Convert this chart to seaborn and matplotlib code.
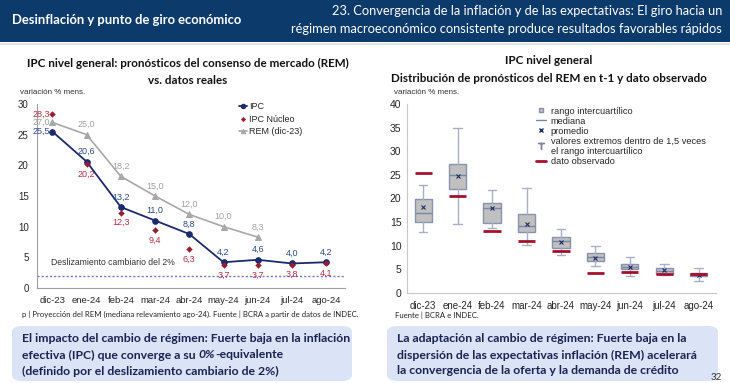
import numpy as np
import pandas as pd
import seaborn as sns
import matplotlib.pyplot as plt
from matplotlib.lines import Line2D
from matplotlib.patches import Rectangle, FancyBboxPatch

# data
months = ['dic-23', 'ene-24', 'feb-24', 'mar-24', 'abr-24', 'may-24', 'jun-24', 'jul-24', 'ago-24']
ipc = [25.5, 20.6, 13.2, 11.0, 8.8, 4.2, 4.6, 4.0, 4.2]
ipc_nucleo = [28.3, 20.2, 12.3, 9.4, 6.3, 3.7, 3.7, 3.8, 4.1]
rem_dic23 = [27.0, 25.0, 18.2, 15.0, 12.0, 10.0, 8.3]
deslizamiento = 2.0

# REM t-1 distribution
rem_wlo = [13.0, 14.5, 13.7, 10.1, 8.0, 5.7, 3.6, 3.8, 2.6]
rem_q1 = [15.0, 22.1, 14.9, 13.0, 9.5, 6.7, 5.0, 4.0, 3.5]
rem_med = [17.0, 25.0, 18.0, 14.2, 11.0, 7.6, 5.5, 4.6, 3.9]
rem_q3 = [20.0, 27.4, 19.0, 16.8, 11.9, 8.4, 6.1, 5.3, 4.3]
rem_whi = [22.9, 35.0, 21.7, 22.2, 13.5, 10.0, 7.6, 6.1, 5.3]
rem_mean = [18.1, 24.8, 17.9, 14.6, 10.7, 7.5, 5.5, 4.8, 3.8]
dato_observado = [25.3, 20.5, 13.1, 11.0, 8.8, 4.2, 4.5, 4.0, 4.0]

NAVY = '#1b2a6b'
RED = '#9b1b30'
GREY = '#a8a8a8'
HEAD = '#0b3a6b'
TXT = '#1a2350'
CAL = ['Lato', 'DejaVu Sans']

sns.set_style('white')
plt.rcParams['font.family'] = ['Liberation Sans', 'DejaVu Sans']

W, H = 730, 383
fig = plt.figure(figsize=(W / 100, H / 100), dpi=100)


def fx(px):
    return px / W


def fy(py):
    return 1 - py / H


def fmt(v):
    return f'{v:.1f}'.replace('.', ',')


# header band
fig.patches.append(Rectangle((0, fy(42)), 1, 42 / H, transform=fig.transFigure,
                             facecolor=HEAD, edgecolor='none', zorder=0))
fig.patches.append(Rectangle((0, fy(45)), 1, 2 / H, transform=fig.transFigure,
                             facecolor='#dfe3ea', edgecolor='none', zorder=0))
fig.text(fx(12), fy(20), 'Desinflación y punto de giro económico', color='white',
         fontsize=9.4, fontweight='bold', family=CAL, va='center')
fig.text(fx(722), fy(11), '23. Convergencia de la inflación y de las expectativas: El giro hacia un',
         color='white', fontsize=9.3, family=CAL, ha='right', va='center')
fig.text(fx(722), fy(29), 'régimen macroeconómico consistente produce resultados favorables rápidos',
         color='white', fontsize=9.3, family=CAL, ha='right', va='center')

# ---------------- left chart ----------------
ax1 = fig.add_axes([fx(37), fy(288), 308 / W, 184 / H])
x = np.arange(len(months))
df = pd.DataFrame({'x': x, 'ipc': ipc, 'nucleo': ipc_nucleo})
df_rem = pd.DataFrame({'x': x[:len(rem_dic23)], 'rem': rem_dic23})

ax1.axhline(deslizamiento, color='#6f74c8', lw=1, ls=(0, (1.5, 1.5)), zorder=1)
sns.lineplot(data=df_rem, x='x', y='rem', ax=ax1, color=GREY, lw=1.2, marker='^',
             markersize=4, markeredgecolor=GREY, label='REM (dic-23)', zorder=2)
sns.lineplot(data=df, x='x', y='ipc', ax=ax1, color=NAVY, lw=1.3, marker='o',
             markersize=4, markeredgecolor=NAVY, label='IPC', zorder=3)
sns.scatterplot(data=df, x='x', y='nucleo', ax=ax1, color=RED, marker='D', s=9,
                edgecolor=RED, label='IPC Núcleo', zorder=4)

LS = 6.5
for i, v in enumerate(ipc):
    if i == 0:
        ax1.annotate(fmt(v), (i, v), xytext=(-2, 0), textcoords='offset points',
                     ha='right', va='center', fontsize=LS, color='#2e4a8a')
    else:
        ax1.annotate(fmt(v), (i, v), xytext=(0, 4), textcoords='offset points',
                     ha='center', va='bottom', fontsize=LS, color='#2e4a8a')
for i, v in enumerate(ipc_nucleo):
    if i == 0:
        ax1.annotate(fmt(v), (i, v), xytext=(-2, 0), textcoords='offset points',
                     ha='right', va='center', fontsize=LS, color='#b03245')
    else:
        ax1.annotate(fmt(v), (i, v), xytext=(0, -4), textcoords='offset points',
                     ha='center', va='top', fontsize=LS, color='#b03245')
for i, v in enumerate(rem_dic23):
    if i == 0:
        ax1.annotate(fmt(v), (i, v), xytext=(-2, 0), textcoords='offset points',
                     ha='right', va='center', fontsize=LS, color='#a0a0a0')
    else:
        ax1.annotate(fmt(v), (i, v), xytext=(0, 4), textcoords='offset points',
                     ha='center', va='bottom', fontsize=LS, color='#a0a0a0')

ax1.text(-0.05, 4.2, 'Deslizamiento cambiario del 2%', fontsize=6.2, color='#333333', va='center')

ax1.set_xlim(-0.45, 8.55)
ax1.set_ylim(0, 30)
ax1.set_yticks(range(0, 31, 5))
ax1.set_xticks(x)
ax1.set_xticklabels(months)
ax1.set_xticks(np.arange(0.5, 8.5, 1), minor=True)
ax1.set_xlabel('')
ax1.set_ylabel('')
for s in ['top', 'right']:
    ax1.spines[s].set_visible(False)
for s in ['left', 'bottom']:
    ax1.spines[s].set_color('#a0a0a0')
ax1.tick_params(axis='y', length=3, color='#a0a0a0', labelsize=7, pad=3)
ax1.tick_params(axis='x', which='major', length=0, labelsize=6.8, pad=6)
ax1.tick_params(axis='x', which='minor', length=3, color='#a0a0a0', direction='in')

h, l = ax1.get_legend_handles_labels()
order = [l.index('IPC'), l.index('IPC Núcleo'), l.index('REM (dic-23)')]
ax1.legend([h[k] for k in order], [l[k] for k in order], loc='upper left',
           bbox_to_anchor=(0.63, 1.055), frameon=False, fontsize=6.5,
           handlelength=0.9, handletextpad=0.2, labelspacing=0.4, markerscale=0.8)

fig.text(fx(188), fy(63), 'IPC nivel general: pronósticos del consenso de mercado (REM)',
         ha='center', va='center', fontsize=8.4, fontweight='bold', family=CAL, color='#111111')
fig.text(fx(188), fy(80), 'vs. datos reales', ha='center', va='center', fontsize=8.4,
         fontweight='bold', family=CAL, color='#111111')
fig.text(fx(20), fy(93), 'variación % mens.', fontsize=5.8, va='center', color='#333333')
fig.text(fx(22), fy(314), 'p | Proyección del REM (mediana relevamiento ago-24). Fuente | BCRA a partir de datos de INDEC.',
         fontsize=5.6, family=CAL, va='center', color='#222222')

# ---------------- right chart ----------------
ax2 = fig.add_axes([fx(407), fy(293), 309 / W, 189 / H])
stats = []
for i in range(len(months)):
    stats.append({'whislo': rem_wlo[i], 'q1': rem_q1[i], 'med': rem_med[i],
                  'q3': rem_q3[i], 'whishi': rem_whi[i], 'mean': rem_mean[i],
                  'fliers': [], 'label': months[i]})
ax2.bxp(stats, positions=x, widths=0.5, patch_artist=True, showmeans=True,
        boxprops=dict(facecolor='#c0c0c0', edgecolor='#8a93ae', lw=1),
        medianprops=dict(color='#7a84a3', lw=1),
        whiskerprops=dict(color='#a9b0c6', lw=1),
        capprops=dict(color='#a9b0c6', lw=1),
        meanprops=dict(marker='x', markersize=2.5, markeredgecolor=NAVY, markeredgewidth=0.8),
        capwidths=0.25)
obs = pd.DataFrame({'x': x, 'obs': dato_observado})
ax2.hlines(obs['obs'], obs['x'] - 0.25, obs['x'] + 0.25, color='#a5102c', lw=2, zorder=5)

ax2.set_xlim(-0.47, 8.5)
ax2.set_ylim(0, 40)
ax2.set_yticks(range(0, 41, 5))
ax2.set_xticks(x)
ax2.set_xticklabels(months)
ax2.set_xticks(np.arange(0.5, 8.5, 1), minor=True)
for s in ['top', 'right']:
    ax2.spines[s].set_visible(False)
for s in ['left', 'bottom']:
    ax2.spines[s].set_color('#c8c8c8')
ax2.tick_params(axis='y', length=0, labelsize=7.5, pad=4)
ax2.tick_params(axis='x', which='major', length=0, labelsize=7, pad=6)
ax2.tick_params(axis='x', which='minor', length=3, color='#c0c0c0', direction='in')

leg_h = [Line2D([], [], ls='none', marker='s', markersize=3.5, markerfacecolor='#c0c0c0', markeredgecolor='#8a93ae'),
         Line2D([], [], color='#7a84a3', lw=1),
         Line2D([], [], ls='none', marker='x', markersize=3.5, markeredgecolor=NAVY),
         Line2D([], [], ls='none', marker='$\\top$', markersize=5, color='#7a84a3'),
         Line2D([], [], color='#a5102c', lw=2)]
leg_l = ['rango intercuartílico', 'mediana', 'promedio',
         'valores extremos dentro de 1,5 veces\nel rango intercuartílico', 'dato observado']
ax2.legend(leg_h, leg_l, loc='upper left', bbox_to_anchor=(0.39, 1.03), frameon=False,
           fontsize=6.7, handlelength=1.1, handletextpad=0.5, labelspacing=0.1)

fig.text(fx(549), fy(61), 'IPC nivel general', ha='center', va='center', fontsize=8.4,
         fontweight='bold', family=CAL, color='#111111')
fig.text(fx(549), fy(78), 'Distribución de pronósticos del REM en t-1 y dato observado',
         ha='center', va='center', fontsize=8.4, fontweight='bold', family=CAL, color='#111111')
fig.text(fx(394), fy(93), 'variación % mens.', fontsize=5.8, va='center', color='#333333')
fig.text(fx(395), fy(315), 'Fuente | BCRA e INDEC.', fontsize=5.6, family=CAL, va='center', color='#222222')

# ---------------- bottom message boxes ----------------
for x0, x1 in [(12, 352), (387, 718)]:
    fig.patches.append(FancyBboxPatch((fx(x0), fy(381)), fx(x1 - x0), 55 / H,
                                      boxstyle='round,pad=0,rounding_size=0.015',
                                      transform=fig.transFigure, facecolor='#dbe3f7',
                                      edgecolor='none', zorder=0))

bkw = dict(fontsize=8.8, fontweight='bold', family=CAL, color=TXT, va='center')
fig.text(fx(22), fy(339), 'El impacto del cambio de régimen: Fuerte baja en la inflación', **bkw)
t1 = fig.text(fx(22), fy(355), 'efectiva (IPC) que converge a su ', **bkw)
fig.text(fx(22), fy(371), '(definido por el deslizamiento cambiario de 2%)', **bkw)

fig.text(fx(397), fy(339), 'La adaptación al cambio de régimen: Fuerte baja en la', **bkw)
fig.text(fx(397), fy(355), 'dispersión de las expectativas inflación (REM) acelerará', **bkw)
fig.text(fx(397), fy(371), 'la convergencia de la oferta y la demanda de crédito', **bkw)

fig.canvas.draw()
r = fig.canvas.get_renderer()
bb = t1.get_window_extent(r)
t2 = fig.text(bb.x1 / fig.bbox.width, fy(355), '0%', style='italic', **bkw)
bb2 = t2.get_window_extent(r)
fig.text(bb2.x1 / fig.bbox.width, fy(355), '-equivalente', **bkw)

fig.text(fx(722), fy(378), '32', ha='right', va='center', fontsize=7, family=CAL, color='#333333')

fig.savefig('out.png', dpi=100)
